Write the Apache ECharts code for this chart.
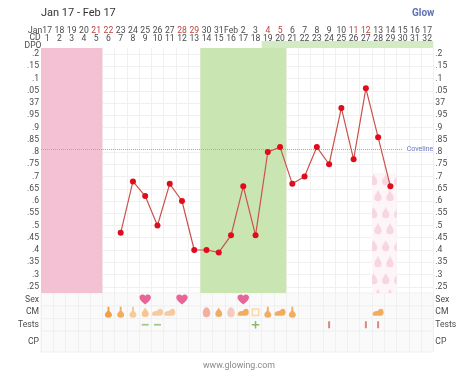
<!DOCTYPE html>
<html><head><meta charset="utf-8">
<style>html,body{margin:0;padding:0;background:#fff}#c{width:474px;height:376px}</style>
<script src="https://cdn.jsdelivr.net/npm/echarts@6/dist/echarts.min.js"></script>
</head><body><div id="c"></div>
<script>
const dateLabels = ['17','18','19','20','21','22','23','24','25','26','27','28','29','30','31','Feb','2','3','4','5','6','7','8','9','10','11','12','13','14','15','16','17'];
const cdLabels = ['1','2','3','4','5','6','7','8','9','10','11','12','13','14','15','16','17','18','19','20','21','22','23','24','25','26','27','28','29','30','31','32'];
const dpoLabels = ['','','','','','','','','','','','','','','','','','','0','1','2','3','4','5','6','7','8','9','10','11','12','13'];
const weekendIdx = [4,5,11,12,18,19,25,26];
const temps = [null,null,null,null,null,null,36.47,36.68,36.62,36.50,36.67,36.60,36.40,36.40,36.39,36.46,36.66,36.46,36.80,36.82,36.67,36.70,36.82,36.75,36.98,36.77,37.06,36.86,36.66,null,null,null];
const coverline = 36.81;
const fertileRange = [0,4];
const ovulationRange = [13,19];
const periodRange = [27,28];
const dpoRange = [18,31];
const sexDays = [8,11,16];
const cmDays = [5,6,7,8,9,10,13,14,15,16,17,18,19,20,27];
const cmTypes = ['bottleD','bottle','bottleL','dropL','blobL','blobL','eggD','drop','egg','blob','square','bottle','blob','bottle','blob'];
const testDays = [8,9,17,23,26,27];
const testTypes = ['minus','minus','plus','bar','bar','bar'];
const lanes = ['Sex','CM','Tests','CP'];

const F='Roboto', TXT='#4a4a4a', LINE='#f0f0f0';
const bottle='path://M3.6 0H6.4V6C6.4 7 10 9 10 12A5 5 0 0 1 0 12C0 9 3.6 7 3.6 6Z';
const drop='path://M5 0C6 3 10 6 10 10A5 5 0 0 1 0 10C0 6 4 3 5 0Z';
const blob='path://M0 8C0 5 3 4 6 4C8 4 9 1 12 1C15 1 16 3 16 6C16 9 13 10 10 10H3C1 10 0 9.5 0 8Z';
const egg='path://M5 0C8 0 10 4 10 7A5 5 0 0 1 0 7C0 4 2 0 5 0Z';
const cmStyle={
 bottleD:{symbol:bottle,symbolSize:[7,11],itemStyle:{color:'#ee8a1d'}},
 bottle:{symbol:bottle,symbolSize:[7,11],itemStyle:{color:'#f09a3e'}},
 bottleL:{symbol:bottle,symbolSize:[7,11],itemStyle:{color:'#f6bd83'}},
 drop:{symbol:drop,symbolSize:[7,9.5],itemStyle:{color:'#f09a3e'}},
 dropL:{symbol:drop,symbolSize:[7,9.5],itemStyle:{color:'#f6b878'}},
 blob:{symbol:blob,symbolSize:[11,7],itemStyle:{color:'#f0983a'}},
 blobL:{symbol:blob,symbolSize:[11,7],itemStyle:{color:'#f6bd83'}},
 eggD:{symbol:egg,symbolSize:[7.5,10],itemStyle:{color:'#ef9c88'}},
 egg:{symbol:egg,symbolSize:[7.5,10],itemStyle:{color:'#f5bfae'}},
 square:{symbol:'rect',symbolSize:[6.5,6.5],itemStyle:{color:'#fff6ea',borderColor:'#f8cf9e',borderWidth:1.5}}
};
const testStyle={
 minus:{symbol:'rect',symbolSize:[7,1.8],itemStyle:{color:'#8fbf6a'}},
 plus:{symbol:'path://M4 0H6V4H10V6H6V10H4V6H0V4H4Z',symbolSize:[7.5,7.5],itemStyle:{color:'#6fa84f'}},
 bar:{symbol:'rect',symbolSize:[2,7],itemStyle:{color:'#cf6b60'}}
};

function dropTile(){
  const c=document.createElement('canvas');c.width=12;c.height=33;
  const g=c.getContext('2d');g.fillStyle='#fdf5f7';g.fillRect(0,0,12,33);
  g.fillStyle='#f8d6df';
  function d(x,y){g.beginPath();g.moveTo(x,y-6);g.bezierCurveTo(x+.9,y-3,x+3.7,y-.8,x+3.7,y+1.6);
    g.arc(x,y+1.6,3.7,0,Math.PI);g.bezierCurveTo(x-3.7,y-.8,x-.9,y-3,x,y-6);g.fill();}
  [-12,0,12].forEach(o=>{d(1.7+o,15);d(6+o,31);d(6+o,-2);});
  return c;
}
const bandItem=(params,api)=>{
  const w=api.size([1,0])[0];
  const a=api.coord([api.value(0),api.value(2)]);
  const b=api.coord([api.value(1),api.value(3)]);
  return {type:'rect',shape:{x:a[0]-w/2,y:a[1],width:b[0]-a[0]+w,height:b[1]-a[1]},style:{fill:api.visual('color')}};
};
const band=(range,top,bottom,color,z)=>({type:'custom',xAxisIndex:0,yAxisIndex:0,renderItem:bandItem,z:z||1,silent:true,
  encode:{x:[0,1],y:[2,3]},itemStyle:{color},data:[[range[0],range[1],top,bottom]]});

const hiddenX=(g)=>({type:'category',gridIndex:g,data:cdLabels,axisLine:{show:false},axisTick:{show:false},axisLabel:{show:false},splitLine:{show:true,interval:0,lineStyle:{color:LINE,width:1}}});
const topAxis=(data,margin,color)=>({type:'category',gridIndex:1,position:'top',data,axisLine:{show:false},axisTick:{show:false},splitLine:{show:false},
  axisLabel:{interval:0,fontFamily:F,fontSize:8.6,color:color||TXT,margin,verticalAlign:'middle',hideOverlap:false}});
const tempLabel=v=>{const s=(Math.round(v*100)/100);if(s===37)return '37';return String(s).replace(/^\d+/,'');};
const tempY=(pos,split)=>({type:'value',gridIndex:0,position:pos,min:36.2,max:37.25,interval:0.05,axisLine:{show:false},axisTick:{show:false},
  axisLabel:{fontFamily:F,fontSize:8.6,color:TXT,margin:2,padding:[3,0,0,0],showMinLabel:false,showMaxLabel:false,formatter:tempLabel},
  splitLine:{show:split,showMinLine:false,showMaxLine:false,lineStyle:{color:LINE}}});

const laneBox=[[293,13],[306,12.5],[318.5,12.5],[331,21]];
const grids=[{left:41,right:40.7,top:41.75,height:257.25},{left:41,right:40.7,top:48,height:245}];
const xAxes=[{type:'category',gridIndex:0,data:cdLabels,show:false},hiddenX(1),
  topAxis(dpoLabels,2.3),topAxis(cdLabels,9.6),
  topAxis(dateLabels,17.6,(v,i)=>weekendIdx.includes(i)?'#c0443c':TXT)];
const yAxes=[tempY('left',true),tempY('right',false),{type:'value',gridIndex:1,show:false,min:0,max:1}];
const laneSeries=[];
lanes.forEach((name,i)=>{
  const g=2+i;
  grids.push({left:41,right:40.7,top:laneBox[i][0],height:laneBox[i][1],show:true,backgroundColor:'#fafafa',borderColor:LINE,borderWidth:1,z:0});
  xAxes.push(hiddenX(g));
  const yi=yAxes.length;
  ['left','right'].forEach(pos=>yAxes.push({type:'category',gridIndex:g,position:pos,data:[name],axisLine:{show:false},axisTick:{show:false},splitLine:{show:false},
    axisLabel:{fontFamily:F,fontSize:8.6,color:TXT,margin:2,padding:[3,0,0,0]}}));
  laneSeries[i]={xi:xAxes.length-1,yi,name};
});
const laneScatter=(i,data)=>({type:'scatter',xAxisIndex:laneSeries[i].xi,yAxisIndex:laneSeries[i].yi,silent:true,z:3,data});

const option={
 animation:false,backgroundColor:'#fff',
 title:[
  {text:'Jan 17 - Feb 17',left:36,top:3,textStyle:{fontFamily:F,fontSize:11,fontWeight:'normal',color:'#333'}},
  {text:'Glow',left:407,top:3,textStyle:{fontFamily:F,fontSize:10,fontWeight:'bold',color:'#5f72b5'}},
  {text:'www.glowing.com',left:198,top:356.5,textStyle:{fontFamily:F,fontSize:8.8,fontWeight:'normal',color:'#8a8a8a'}}
 ],
 grid:grids,xAxis:xAxes,yAxis:yAxes,
 graphic:[
  {type:'text',left:28,top:26,style:{text:'Jan',font:'8.6px Roboto',fill:TXT}},
  {type:'text',left:29.5,top:33.5,style:{text:'CD',font:'8.6px Roboto',fill:TXT}},
  {type:'text',left:24.5,top:41,style:{text:'DPO',font:'8.6px Roboto',fill:TXT}}
 ],
 series:[
  band(fertileRange,37.225,36.225,'#f4c1d4'),
  band(ovulationRange,37.225,36.225,'#c9e5b2'),
  band(periodRange,36.714,36.225,{image:dropTile(),repeat:'repeat'}),
  band(dpoRange,37.2531,37.225,'#d3ebc2'),
  {type:'line',xAxisIndex:0,yAxisIndex:0,data:temps,z:5,symbol:'circle',symbolSize:6,silent:true,
   lineStyle:{color:'#c9534c',width:1.2},itemStyle:{color:'#e00c1c'},
   markLine:{silent:true,symbol:'none',lineStyle:{color:'#a6abb8',type:'dotted',width:1},
     label:{show:true,position:'end',formatter:'Coveline',distance:4,fontFamily:F,fontSize:7,color:'#6a74c0'},
     data:[[{xAxis:0,yAxis:coverline,x:41},{xAxis:29,yAxis:coverline}]]}},
  laneScatter(0,sexDays.map(d=>({value:[d,0],symbol:'path://M12 21C5 15 1 11 1 7C1 3 4 1 7 1C9 1 11 2 12 4C13 2 15 1 17 1C20 1 23 3 23 7C23 11 19 15 12 21Z',symbolSize:[11.5,10],itemStyle:{color:'#e2407e'}}))),
  laneScatter(1,cmDays.map((d,i)=>Object.assign({value:[d,0]},cmStyle[cmTypes[i]]))),
  laneScatter(2,testDays.map((d,i)=>Object.assign({value:[d,0]},testStyle[testTypes[i]])))
 ]
};
echarts.init(document.getElementById('c'),null,{renderer:'canvas'}).setOption(option);
</script></body></html>
